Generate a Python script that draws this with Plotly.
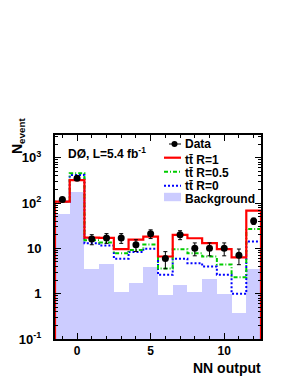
import plotly.graph_objects as go

# ---------------- data ----------------
bin_centers = [-1, 0, 1, 2, 3, 4, 5, 6, 7, 8, 9, 10, 11, 12]
data_counts = [120, 350, 16, 17, 17, 12, 21, 6, 20, 10, 10, 10, 7, 40]
ttbar_R1 = [107, 318, 17.2, 17.0, 9.6, 15.5, 18.1, 6.6, 19.8, 16.7, 13.0, 9.6, 6.3, 68]
ttbar_R05 = [107, 455, 15.0, 13.5, 7.8, 9.2, 12.1, 3.6, 9.5, 7.8, 6.6, 4.4, 2.3, 26.8]
ttbar_R0 = [107, 415, 13.0, 11.5, 5.9, 8.3, 9.8, 2.6, 5.9, 4.7, 3.95, 2.6, 1.0, 14.1]
background = [56, 175, 3.5, 4.5, 1.1, 1.75, 3.9, 0.93, 1.55, 1.1, 2.1, 0.98, 0.37, 3.5]

x_tick_vals = [0, 5, 10]
x_tick_text = ["0", "5", "10"]
y_tick_vals = [0.1, 1, 10, 100, 1000]
y_tick_text = ["10<sup>-1</sup>", "1", "10", "10<sup>2</sup>", "10<sup>3</sup>"]

legend_labels = ["Data", "tt\u0304 R=1", "tt\u0304 R=0.5", "tt\u0304 R=0", "Background"]
title_text = "DØ, L=5.4 fb<sup>-1</sup>"
x_title = "NN output"
y_title = "N<sub>event</sub>"

# ---------------- layout constants (page pixels) ----------------
PAGE_OFF = 8                     # default body margin of the html page
W, H = 297 - PAGE_OFF, 384 - PAGE_OFF
L, R, T, B = 55, 261, 135, 339   # plot frame in page pixels
X_RANGE = [-1.5, 12.5]
Y_LOG_RANGE = [-1, 3.5]
Y_FLOOR = 10 ** Y_LOG_RANGE[0]

RED = "#ff0000"
GREEN = "#00cc00"
BLUE = "#0000ff"
LAV = "#ccccff"
FONT = "Liberation Sans"

edges = [c - 0.5 for c in bin_centers] + [bin_centers[-1] + 0.5]


def outline(vals):
    xs = [edges[0]] + edges + [edges[-1]]
    ys = [Y_FLOOR] + list(vals) + [vals[-1], Y_FLOOR]
    return xs, ys


fig = go.Figure()

fig.add_trace(go.Bar(x=bin_centers, y=background, width=1.0,
                     marker=dict(color=LAV, line=dict(width=0)),
                     showlegend=False))

for vals, col, dash, w in [(ttbar_R0, BLUE, "2px,2px", 2),
                           (ttbar_R05, GREEN, "4px,2px,1px,2px", 2),
                           (ttbar_R1, RED, "solid", 2.2)]:
    xs, ys = outline(vals)
    fig.add_trace(go.Scatter(x=xs, y=ys, mode="lines", line_shape="hv",
                             line=dict(color=col, width=w, dash=dash),
                             showlegend=False))

fig.add_trace(go.Scatter(x=bin_centers, y=data_counts, mode="markers",
                         marker=dict(color="black", size=7),
                         error_y=dict(type="data",
                                      array=[v ** 0.5 for v in data_counts],
                                      color="black", thickness=1, width=2),
                         showlegend=False))

# ---------------- axes ----------------
minor_y = [m * 10 ** e for e in range(-1, 4) for m in range(2, 10)]

fig.update_xaxes(range=X_RANGE, showgrid=False, zeroline=False,
                 showline=True, linecolor="black", linewidth=2, mirror="allticks",
                 ticks="inside", ticklen=6, tickwidth=1, tickcolor="black",
                 tickvals=x_tick_vals, ticktext=x_tick_text,
                 tickfont=dict(family=FONT, size=12, color="black", weight="bold"),
                 ticklabelstandoff=0,
                 minor=dict(ticks="inside", ticklen=3, dtick=1, tick0=0,
                            tickcolor="black", tickwidth=1, showgrid=False))

fig.update_yaxes(type="log", range=Y_LOG_RANGE, showgrid=False, zeroline=False,
                 showline=True, linecolor="black", linewidth=2, mirror="allticks",
                 ticks="inside", ticklen=6, tickwidth=1, tickcolor="black",
                 tickvals=y_tick_vals, ticktext=y_tick_text,
                 tickfont=dict(family=FONT, size=13, color="black", weight="bold"),
                 ticklabelstandoff=9,
                 minor=dict(ticks="inside", ticklen=3, tickvals=minor_y,
                            tickcolor="black", tickwidth=1, showgrid=False))


def px2paper(px, py):
    return (px - L) / (R - L), (B - py) / (B - T)


shapes = []
annotations = []

# legend rows (page pixel y of symbol)
row_y = [144, 157.7, 171.7, 185.7, 197]
sym_x0, sym_x1 = 164, 181
text_x = 184
text_y = [144, 159.5, 172.5, 185.5, 199]

# Data entry
x0, y0 = px2paper(169, row_y[0])
x1, _ = px2paper(181, row_y[0])
shapes.append(dict(type="line", xref="paper", yref="paper", x0=x0, x1=x1, y0=y0, y1=y0,
                   line=dict(color="black", width=1)))
cx0, cy0 = px2paper(171.5, row_y[0] - 3)
cx1, cy1 = px2paper(177.5, row_y[0] + 3)
shapes.append(dict(type="circle", xref="paper", yref="paper", x0=cx0, x1=cx1, y0=cy1, y1=cy0,
                   fillcolor="black", line=dict(color="black", width=0)))

for i, (col, dash, w) in enumerate([(RED, "solid", 2.2), (GREEN, "4px,2px,1px,2px", 2),
                                     (BLUE, "2px,2px", 2)]):
    yy = row_y[i + 1]
    a0, b0 = px2paper(sym_x0, yy)
    a1, _ = px2paper(sym_x1, yy)
    shapes.append(dict(type="line", xref="paper", yref="paper", x0=a0, x1=a1, y0=b0, y1=b0,
                       line=dict(color=col, width=w, dash=dash)))

ra0, rb0 = px2paper(sym_x0, row_y[4] - 4.2)
ra1, rb1 = px2paper(sym_x1, row_y[4] + 4.2)
shapes.append(dict(type="rect", xref="paper", yref="paper", x0=ra0, x1=ra1, y0=rb1, y1=rb0,
                   fillcolor=LAV, line=dict(width=0)))

for i, lab in enumerate(legend_labels):
    ax, ay = px2paper(text_x, text_y[i])
    annotations.append(dict(text=lab, xref="paper", yref="paper", x=ax, y=ay,
                            xanchor="left", yanchor="middle", showarrow=False,
                            borderpad=0,
                            font=dict(family=FONT, size=12, color="black", weight="bold")))

# title inside plot
tx, ty = px2paper(67, 153)
annotations.append(dict(text=title_text, xref="paper", yref="paper", x=tx, y=ty,
                        xanchor="left", yanchor="middle", showarrow=False, borderpad=0,
                        font=dict(family=FONT, size=12, color="black", weight="bold")))

# axis titles
xx, xy = px2paper(262, 368)
annotations.append(dict(text=x_title, xref="paper", yref="paper", x=xx, y=xy,
                        xanchor="right", yanchor="middle", showarrow=False, borderpad=0,
                        font=dict(family=FONT, size=14, color="black", weight="bold")))
yx, yy_ = px2paper(18, 136)
annotations.append(dict(text=y_title, xref="paper", yref="paper", x=yx, y=yy_,
                        xanchor="center", yanchor="middle", showarrow=False, textangle=-90,
                        borderpad=0,
                        font=dict(family=FONT, size=14, color="black", weight="bold")))

fig.update_layout(width=W, height=H,
                  margin=dict(l=L - PAGE_OFF, r=W - (R - PAGE_OFF),
                              t=T - PAGE_OFF, b=H - (B - PAGE_OFF)),
                  paper_bgcolor="white", plot_bgcolor="white",
                  bargap=0, showlegend=False,
                  shapes=shapes, annotations=annotations)

fig.write_html("out.html")
